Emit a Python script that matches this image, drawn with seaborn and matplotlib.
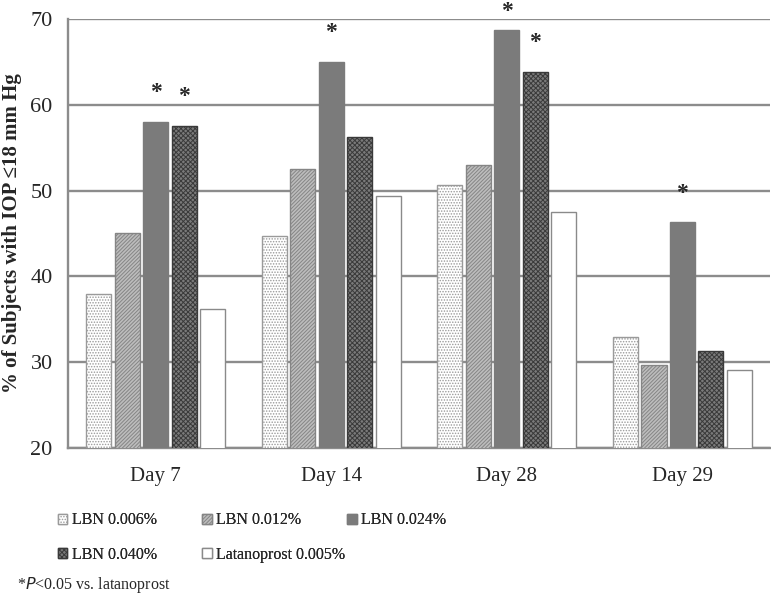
import matplotlib
matplotlib.use("Agg")
import matplotlib.pyplot as plt
from matplotlib.patches import Patch
import seaborn as sns
import pandas as pd

# values (% subjects with IOP <= 18 mm Hg)
days = ["Day 7", "Day 14", "Day 28", "Day 29"]
groups = ["LBN 0.006%", "LBN 0.012%", "LBN 0.024%", "LBN 0.040%", "Latanoprost 0.005%"]
lbn_006 = [38.0, 44.7, 50.6, 32.9]
lbn_012 = [45.1, 52.5, 53.0, 29.7]
lbn_024 = [58.0, 65.0, 68.7, 46.3]
lbn_040 = [57.5, 56.3, 63.8, 31.3]
latano = [36.2, 49.4, 47.5, 29.1]
# significant vs latanoprost (group index, day index)
signif = [(2, 0), (3, 0), (2, 1), (2, 2), (3, 2), (2, 3)]

series = [lbn_006, lbn_012, lbn_024, lbn_040, latano]
rows = []
for g, vals in zip(groups, series):
    for d, v in zip(days, vals):
        rows.append({"day": d, "group": g, "pct": v})
df = pd.DataFrame(rows)

# styling per group: face, hatch, edge (hatch uses edge colour)
faces = ["white", "#bdbdbd", "#7b7b7b", "#7a7a7a", "white"]
hatches = ["......", "/////////", None, "xxxxxxx", None]
edges = ["#9a9a9a", "#858585", "#7b7b7b", "#3a3a3a", "#8a8a8a"]

sns.set_style("white")
plt.rcParams["font.family"] = ["Liberation Serif", "DejaVu Serif"]
plt.rcParams["hatch.linewidth"] = 0.7

fig = plt.figure(figsize=(7.71, 5.95), dpi=100)
ax = fig.add_axes([0.088, 0.247, 0.911, 0.721])

sns.barplot(data=df, x="day", y="pct", hue="group", order=days, hue_order=groups,
            width=0.81, gap=0.12, legend=False, ax=ax, zorder=3)

for i, cont in enumerate(ax.containers):
    for bar in cont:
        bar.set_facecolor(faces[i])
        bar.set_edgecolor(edges[i])
        bar.set_linewidth(1.0)
        if hatches[i]:
            bar.set_hatch(hatches[i])

for gi, di in signif:
    bar = ax.containers[gi][di]
    x = bar.get_x() + bar.get_width() / 2
    y = min(bar.get_height() + 2.2, 69.6)  # keep the tallest one inside the figure
    ax.text(x, y, "*", ha="center", va="bottom", fontsize=17,
            fontweight="bold", clip_on=False)

ax.set_ylim(20, 70)
ax.set_xlim(-0.5, 3.5)
ax.set_yticks(range(20, 71, 10))
ax.yaxis.grid(True, color="#8c8c8c", linewidth=1.7, zorder=0)
ax.set_axisbelow(True)
for s in ["top", "right"]:
    ax.spines[s].set_visible(False)
for s in ["left", "bottom"]:
    ax.spines[s].set_color("#8c8c8c")
    ax.spines[s].set_linewidth(1.7)

ax.tick_params(axis="y", length=6, width=1.6, color="#8c8c8c", labelsize=16, pad=5)
ax.set_xticks(range(4), days)
ax.set_xticks([0.5, 1.5, 2.5, 3.5], minor=True)
ax.tick_params(axis="x", which="major", length=0, labelsize=15, pad=14)
ax.tick_params(axis="x", which="minor", length=6, width=1.6, color="#8c8c8c")
ax.set_xlabel("")
ax.set_ylabel("% of Subjects with IOP \u226418 mm Hg", fontsize=15, fontweight="bold",
              labelpad=6)

handles = [Patch(facecolor=faces[i], edgecolor=edges[i], hatch=hatches[i], label=g)
           for i, g in enumerate(groups)]
# legend laid out row-wise like the original, one legend per column
columns = [[0, 3], [1, 4], [2]]
col_x = [0.075, 0.262, 0.45]
for cx, idx in zip(col_x, columns):
    leg = fig.legend(handles=[handles[k] for k in idx], loc="upper left",
                     bbox_to_anchor=(cx, 0.139), ncol=1, frameon=False, fontsize=11.5,
                     handlelength=0.6, handleheight=0.6, handletextpad=0.3,
                     labelspacing=1.15, borderpad=0, borderaxespad=0)
    fig.add_artist(leg)

fig.text(0.022, 0.017, "*$\\it{P}$<0.05 vs. latanoprost", fontsize=11.5, va="center")

fig.savefig("out.png", dpi=100, facecolor="white")
